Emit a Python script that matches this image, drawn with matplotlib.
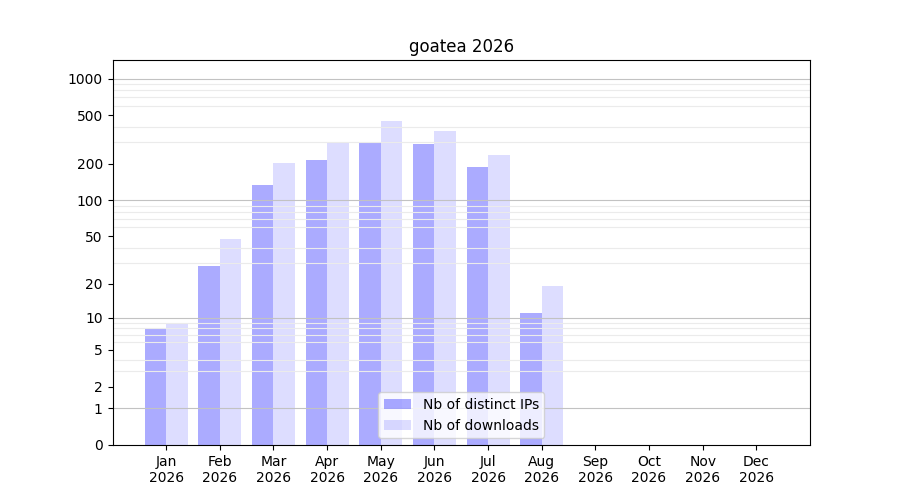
import matplotlib

matplotlib.use("Agg")
import matplotlib.pyplot as plt
import numpy as np
from matplotlib.ticker import FixedLocator

# Monthly stats for 2026
months = ["Jan", "Feb", "Mar", "Apr", "May", "Jun",
          "Jul", "Aug", "Sep", "Oct", "Nov", "Dec"]
year = "2026"
distinct_ips = [8, 28, 134, 215, 302, 291, 188, 11, 0, 0, 0, 0]
downloads = [9, 48, 202, 302, 449, 372, 236, 19, 0, 0, 0, 0]
ytick_values = [0, 1, 2, 5, 10, 20, 50, 100, 200, 500, 1000]


# y axis is log10(1 + v) so that zero months still fit
def fwd(v):
    return np.log10(1 + np.clip(v, 0, None))


def inv(v):
    return 10 ** v - 1


fig, ax = plt.subplots(figsize=(9, 5), dpi=100)
x = np.arange(len(months))
bw = 0.4

ax.bar(x - bw, distinct_ips, width=bw, align="edge", color="blue", alpha=0.33,
       linewidth=0, label="Nb of distinct IPs")
ax.bar(x, downloads, width=bw, align="edge", color="blue", alpha=0.135,
       linewidth=0, label="Nb of downloads")

ax.set_yscale("function", functions=(fwd, inv))
ax.set_ylim(0, 1420)
ax.set_xlim(-1, 12)

ax.yaxis.set_major_locator(FixedLocator(ytick_values))
ax.set_yticklabels([str(v) for v in ytick_values])
minor = [m * 10 ** d for d in range(0, 4) for m in range(1, 10)]
ax.yaxis.set_minor_locator(FixedLocator(minor))
ax.tick_params(axis="y", which="minor", length=0)

ax.grid(axis="y", which="minor", color="#ebebeb", linewidth=0.8)
for v in [1, 10, 100, 1000]:
    ax.axhline(v, color="#c2c2c2", linewidth=0.8, zorder=1.6)

ax.set_xticks(x)
ax.set_xticklabels([f"{m}\n{year}" for m in months])
ax.set_title(f"goatea {year}")
ax.legend(loc="lower center")

fig.savefig("out.png", dpi=100)
